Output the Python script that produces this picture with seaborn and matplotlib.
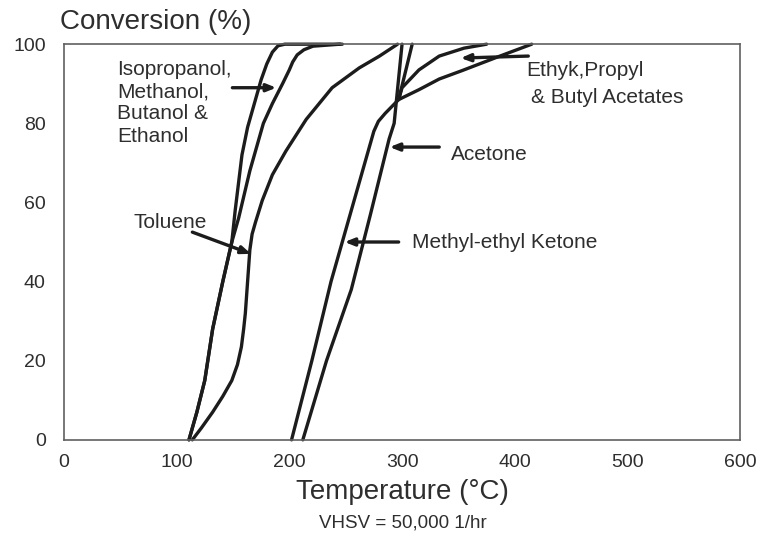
import matplotlib
matplotlib.use("Agg")
import matplotlib.pyplot as plt
import seaborn as sns
import pandas as pd

# conversion curves (temperature in C, conversion in %)
alc_a_t = [111, 118, 125, 132, 141, 149, 152, 155, 158, 163, 169, 175, 180, 185, 190, 196, 247]
alc_a_c = [0, 7, 15, 28, 40, 50, 58, 65, 72, 79, 85, 91, 95, 98, 99.6, 100, 100]

alc_b_t = [111, 118, 125, 132, 141, 149, 155, 160, 165, 171, 177, 185, 194, 200, 203, 207, 213, 221, 245]
alc_b_c = [0, 7, 15, 28, 40, 50, 56, 62, 68, 74, 80, 85, 90, 93.5, 95.5, 97.3, 98.6, 99.5, 100]

tol_t = [114, 122, 132, 141, 149, 154, 157.5, 159.5, 161, 163, 165, 167, 170, 176, 185, 197, 215, 238, 262, 280, 296]
tol_c = [0, 3, 7, 11, 15, 19, 23.5, 28, 32, 40, 48, 52, 55, 60.5, 67, 73, 81, 89, 94, 97, 100]

mek_t = [202, 220, 237, 247, 257, 266, 271, 275, 279, 285, 297, 309]
mek_c = [0, 20, 40, 50, 60, 69, 74, 78, 80.5, 82.5, 86, 100]

acet_t = [212, 233, 255, 272, 288.5, 293, 300]
acet_c = [0, 20, 38, 57, 76, 80, 100]

ester1_t = [297, 300, 315, 333, 355, 375]
ester1_c = [86, 89, 93.5, 97, 99, 100]

ester2_t = [297, 315, 333, 353, 385, 415]
ester2_c = [86, 88.5, 91.2, 93.3, 96.8, 100]

curves = {
    "alc_a": (alc_a_t, alc_a_c),
    "alc_b": (alc_b_t, alc_b_c),
    "toluene": (tol_t, tol_c),
    "mek": (mek_t, mek_c),
    "acetone": (acet_t, acet_c),
    "ester1": (ester1_t, ester1_c),
    "ester2": (ester2_t, ester2_c),
}

x_ticks = [0, 100, 200, 300, 400, 500, 600]
y_ticks = [0, 20, 40, 60, 80, 100]

sns.set_style("white")
plt.rcParams["font.family"] = ["Liberation Sans", "DejaVu Sans"]

LINE = "#1c1c1c"
TXT = "#2e2e2e"
GREY = "#606060"

fig = plt.figure(figsize=(7.6, 5.39), dpi=100)
ax = fig.add_axes([0.084, 0.184, 0.89, 0.734])

for name, (t, c) in curves.items():
    df = pd.DataFrame({"T": t, "conv": c})
    sns.lineplot(data=df, x="T", y="conv", sort=False, estimator=None, ax=ax,
                 color=LINE, lw=2.4, clip_on=False, solid_capstyle="round",
                 solid_joinstyle="round")

ax.set_xlim(0, 600)
ax.set_ylim(0, 100)
ax.set_xticks(x_ticks)
ax.set_yticks(y_ticks)
ax.tick_params(direction="in", length=5, width=1, color=GREY,
               labelsize=14, labelcolor=TXT)
ax.tick_params(axis="y", pad=13)
ax.tick_params(axis="x", pad=10)
for s in ax.spines.values():
    s.set_color(GREY)
    s.set_linewidth(1.2)

ax.set_xlabel("Temperature (°C)", fontsize=20, color=TXT, labelpad=6)
ax.set_ylabel("")
fig.text(60 / 760, 1 - 22 / 539, "Conversion (%)", fontsize=20, color=TXT,
         ha="left", va="center")
fig.text(403 / 760, 1 - 523 / 539, "VHSV = 50,000 1/hr", fontsize=13.5,
         color=TXT, ha="center", va="center")

arrow = dict(arrowstyle="-|>,head_length=0.55,head_width=0.22", lw=2.4,
             color=LINE, shrinkA=0, shrinkB=0)

# labels and arrows
ax.text(47, 85.2, "Isopropanol,\nMethanol,\nButanol &\nEthanol", fontsize=15,
        color=TXT, ha="left", va="center", linespacing=1.22)
ax.annotate("", xy=(188.5, 89), xytext=(149.5, 89), arrowprops=arrow)

ax.text(94, 55, "Toluene", fontsize=15, color=TXT, ha="center", va="center")
ax.annotate("", xy=(166, 47), xytext=(114, 52.5), arrowprops=arrow)

ax.text(343, 72, "Acetone", fontsize=15, color=TXT, ha="left", va="center")
ax.annotate("", xy=(289, 74), xytext=(333, 74), arrowprops=arrow)

ax.text(309, 50, "Methyl-ethyl Ketone", fontsize=15, color=TXT, ha="left",
        va="center")
ax.annotate("", xy=(249, 50), xytext=(297, 50), arrowprops=arrow)

ax.text(410, 93.4, "Ethyk,Propyl", fontsize=15, color=TXT, ha="left",
        va="center")
ax.text(414, 86.6, "& Butyl Acetates", fontsize=15, color=TXT, ha="left",
        va="center")
ax.annotate("", xy=(352, 96.5), xytext=(412, 97), arrowprops=arrow)

fig.savefig("out.png", dpi=100)
